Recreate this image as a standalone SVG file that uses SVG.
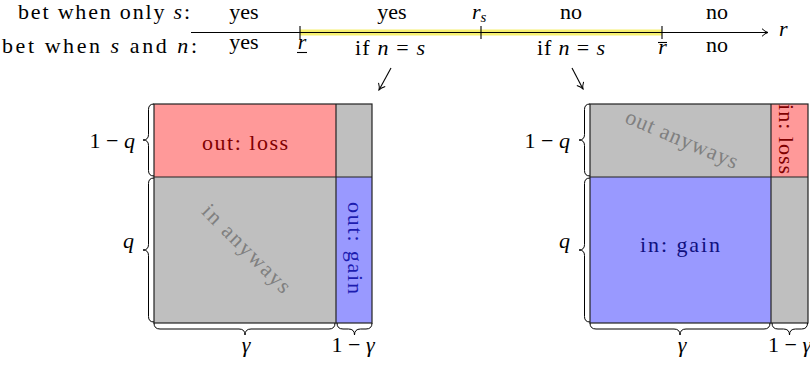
<svg xmlns="http://www.w3.org/2000/svg" width="810" height="369" viewBox="0 0 810 369" font-family="Liberation Serif, DejaVu Serif, serif">
<style>
.t{font-size:22px;fill:#000}
.i{font-style:italic}
.ln{stroke:#000;stroke-width:1.1;fill:none}
.br{stroke:#000;stroke-width:1;fill:none}
.bx{stroke:#222;stroke-width:1.2}
.red{fill:#ff9999}
.blue{fill:#9999ff}
.gray{fill:#bfbfbf}
.lab-red{fill:#800000}
.lab-gray{fill:#808080}
</style>
<defs>
<marker id="tip" markerWidth="8" markerHeight="10" refX="7" refY="5" orient="auto" markerUnits="userSpaceOnUse">
<path d="M1,1.2 Q4,4.2 7,5 Q4,5.8 1,8.8" fill="none" stroke="#000" stroke-width="1"/>
</marker>
</defs>

<g id="row-labels">
<text class="t" x="18" y="19" textLength="172" lengthAdjust="spacing">bet when only <tspan class="i">s</tspan>:</text>
<text class="t" x="2" y="53" textLength="195" lengthAdjust="spacing">bet when <tspan class="i">s</tspan> and <tspan class="i">n</tspan>:</text>
</g>

<g id="axis">
<rect x="300" y="29.5" width="362" height="6" fill="#f6f070"/>
<line class="ln" x1="191" y1="32.5" x2="768" y2="32.5" marker-end="url(#tip)"/>
<line class="ln" x1="300" y1="26" x2="300" y2="39"/>
<line class="ln" x1="481" y1="26" x2="481" y2="39"/>
<line class="ln" x1="662" y1="26" x2="662" y2="39"/>
<text class="t i" x="779" y="36">r</text>
</g>

<g id="row1-values">
<text class="t" x="244" y="19" text-anchor="middle">yes</text>
<text class="t" x="392" y="19" text-anchor="middle">yes</text>
<text class="t" x="472" y="19"><tspan class="i">r</tspan><tspan class="i" font-size="15" dy="3">s</tspan></text>
<text class="t" x="571" y="19" text-anchor="middle">no</text>
<text class="t" x="717" y="19" text-anchor="middle">no</text>
</g>

<g id="row2-values">
<text class="t" x="244" y="49" text-anchor="middle">yes</text>
<text class="t i" x="302" y="49" text-anchor="middle">r</text>
<line class="ln" x1="297" y1="52.5" x2="307" y2="52.5"/>
<text class="t" x="390" y="55" text-anchor="middle" textLength="70" lengthAdjust="spacing">if <tspan class="i">n</tspan> = <tspan class="i">s</tspan></text>
<text class="t" x="571" y="55" text-anchor="middle" textLength="68" lengthAdjust="spacing">if <tspan class="i">n</tspan> = <tspan class="i">s</tspan></text>
<text class="t i" x="662.5" y="54" text-anchor="middle">r</text>
<line class="ln" x1="658" y1="42.5" x2="667" y2="42.5"/>
<text class="t" x="717" y="52" text-anchor="middle">no</text>
</g>

<g id="connectors">
<line class="ln" x1="391" y1="68" x2="379" y2="90" marker-end="url(#tip)"/>
<line class="ln" x1="572" y1="68" x2="583" y2="89" marker-end="url(#tip)"/>
</g>

<g id="left-box">
<rect class="red" x="154" y="104" width="182" height="73"/>
<rect class="gray" x="336" y="104" width="36" height="73"/>
<rect class="gray" x="154" y="177" width="182" height="146"/>
<rect class="blue" x="336" y="177" width="36" height="146"/>
<rect class="bx" x="154" y="104" width="218" height="219" fill="none"/>
<line class="bx" x1="336" y1="104" x2="336" y2="323"/>
<line class="bx" x1="154" y1="177" x2="372" y2="177"/>
<text class="t lab-red" x="245" y="150" text-anchor="middle" textLength="86" lengthAdjust="spacing">out: loss</text>
<text class="t lab-gray" transform="translate(245,250) rotate(45)" x="0" y="5" text-anchor="middle" textLength="116" lengthAdjust="spacing">in anyways</text>
<text class="t" transform="translate(353,248) rotate(90)" x="0" y="5" text-anchor="middle" textLength="92" lengthAdjust="spacing" style="fill:#1c1cb0">out: gain</text>
</g>

<g id="left-braces">
<path class="br" d="M154,104 Q148.5,104 148.5,109.5 L148.5,134.5 Q148.5,140 143,140 Q148.5,140 148.5,145.5 L148.5,170.5 Q148.5,176 154,176"/>
<path class="br" d="M154,178 Q148.5,178 148.5,183.5 L148.5,244.5 Q148.5,250 143,250 Q148.5,250 148.5,255.5 L148.5,316.5 Q148.5,322 154,322"/>
<path class="br" d="M154,323 Q154,329 160,329 L239,329 Q245,329 245,335 Q245,329 251,329 L329,329 Q335,329 335,323"/>
<path class="br" d="M337,323 Q337,329 343,329 L348.5,329 Q354.5,329 354.5,335 Q354.5,329 360.5,329 L366,329 Q372,329 372,323"/>
<text class="t" x="135" y="148" text-anchor="end">1 − <tspan class="i">q</tspan></text>
<text class="t i" x="134" y="248" text-anchor="end">q</text>
<text class="t i" x="246" y="352" text-anchor="middle">γ</text>
<text class="t" x="353" y="352" text-anchor="middle">1 − <tspan class="i">γ</tspan></text>
</g>

<g id="right-box">
<rect class="gray" x="590" y="104" width="181" height="73"/>
<rect class="red" x="771" y="104" width="37" height="73"/>
<rect class="blue" x="590" y="177" width="181" height="146"/>
<rect class="gray" x="771" y="177" width="37" height="146"/>
<rect class="bx" x="590" y="104" width="218" height="219" fill="none"/>
<line class="bx" x1="771" y1="104" x2="771" y2="323"/>
<line class="bx" x1="590" y1="177" x2="808" y2="177"/>
<text class="t lab-gray" transform="translate(681,141) rotate(23)" x="0" y="5" text-anchor="middle" textLength="120" lengthAdjust="spacing">out anyways</text>
<text class="t lab-red" transform="translate(785,139) rotate(90)" x="0" y="6" text-anchor="middle" textLength="70" lengthAdjust="spacing">in: loss</text>
<text class="t" x="680" y="252" text-anchor="middle" textLength="80" lengthAdjust="spacing" style="fill:#101080">in: gain</text>
</g>

<g id="right-braces">
<path class="br" d="M590,104 Q584.5,104 584.5,109.5 L584.5,134.5 Q584.5,140 579,140 Q584.5,140 584.5,145.5 L584.5,170.5 Q584.5,176 590,176"/>
<path class="br" d="M590,178 Q584.5,178 584.5,183.5 L584.5,244.5 Q584.5,250 579,250 Q584.5,250 584.5,255.5 L584.5,316.5 Q584.5,322 590,322"/>
<path class="br" d="M590,323 Q590,329 596,329 L674,329 Q680,329 680,335 Q680,329 686,329 L764,329 Q770,329 770,323"/>
<path class="br" d="M772,323 Q772,329 778,329 L783.5,329 Q789.5,329 789.5,335 Q789.5,329 795.5,329 L801.5,329 Q807.5,329 807.5,323"/>
<text class="t" x="570" y="148" text-anchor="end">1 − <tspan class="i">q</tspan></text>
<text class="t i" x="570" y="248" text-anchor="end">q</text>
<text class="t i" x="682" y="352" text-anchor="middle">γ</text>
<text class="t" x="768" y="352">1 − <tspan class="i">γ</tspan></text>
</g>
</svg>
